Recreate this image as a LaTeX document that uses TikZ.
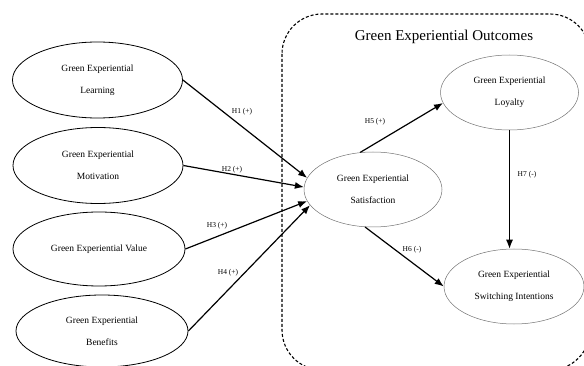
\documentclass[tikz,border=0pt]{standalone}
\usepackage{fontspec}
\setmainfont{Liberation Serif}
\usetikzlibrary{shapes.geometric,arrows.meta}
\begin{document}
\begin{tikzpicture}[x=1pt,y=-1pt,
  leftell/.style={ellipse, draw=black, line width=0.8pt, minimum width=170pt, minimum height=76pt, inner sep=0pt, align=center, font=\fontsize{9.5}{22}\selectfont},
  rightell/.style={ellipse, draw=black!55, line width=0.5pt, minimum width=138pt, minimum height=75pt, inner sep=0pt, align=center, font=\fontsize{9.5}{22}\selectfont},
  conn/.style={-{Latex[length=9pt,width=7pt]}, line width=1.2pt},
  hyp/.style={font=\fontsize{7.5}{9}\selectfont, inner sep=0pt},
  outcomebox/.style={dash pattern=on 3pt off 2pt, line width=1.1pt, rounded corners=40pt}]
\useasboundingbox (0,0) rectangle (584,366);
\clip (0,0) rectangle (584,366);
\draw[outcomebox] (282,14) rectangle (590,370);
\node[font=\fontsize{15}{18}\selectfont] (T) at (444,37) {Green Experiential Outcomes};
\node[leftell] (L) at (97.5,80) {Green Experiential\\Learning};
\node[leftell] (M) at (98,165.5) {Green Experiential\\Motivation};
\node[leftell, minimum width=172pt, minimum height=74pt] (V) at (99,249) {Green Experiential Value};
\node[leftell, minimum width=172pt, minimum height=72pt] (B) at (102,331) {Green Experiential\\Benefits};
\node[rightell] (S) at (373,189.5) {Green Experiential\\Satisfaction};
\node[rightell] (Y) at (509.5,92.5) {Green Experiential\\Loyalty};
\node[rightell, minimum width=140pt] (W) at (514,286.5) {Green Experiential\\Switching Intentions};
\draw[conn] (L.east) -- (S.170);
\draw[conn] (M.east) -- (S.178);
\draw[conn] (V.east) -- (S.190);
\draw[conn] (B.east) -- (S.194);
\draw[conn] (S.109) -- (Y.189);
\draw[conn] (S.258) -- (W.west);
\draw[conn] (Y.south) -- (Y.south |- W.north);
\node[hyp] (h1) at (242,112) {H1 (+)};
\node[hyp] (h2) at (232,170) {H2 (+)};
\node[hyp] (h3) at (217,226) {H3 (+)};
\node[hyp] (h4) at (228,273) {H4 (+)};
\node[hyp] (h5) at (375,122) {H5 (+)};
\node[hyp] (h6) at (412,250) {H6 (-)};
\node[hyp] (h7) at (527,175) {H7 (-)};
\end{tikzpicture}
\end{document}
